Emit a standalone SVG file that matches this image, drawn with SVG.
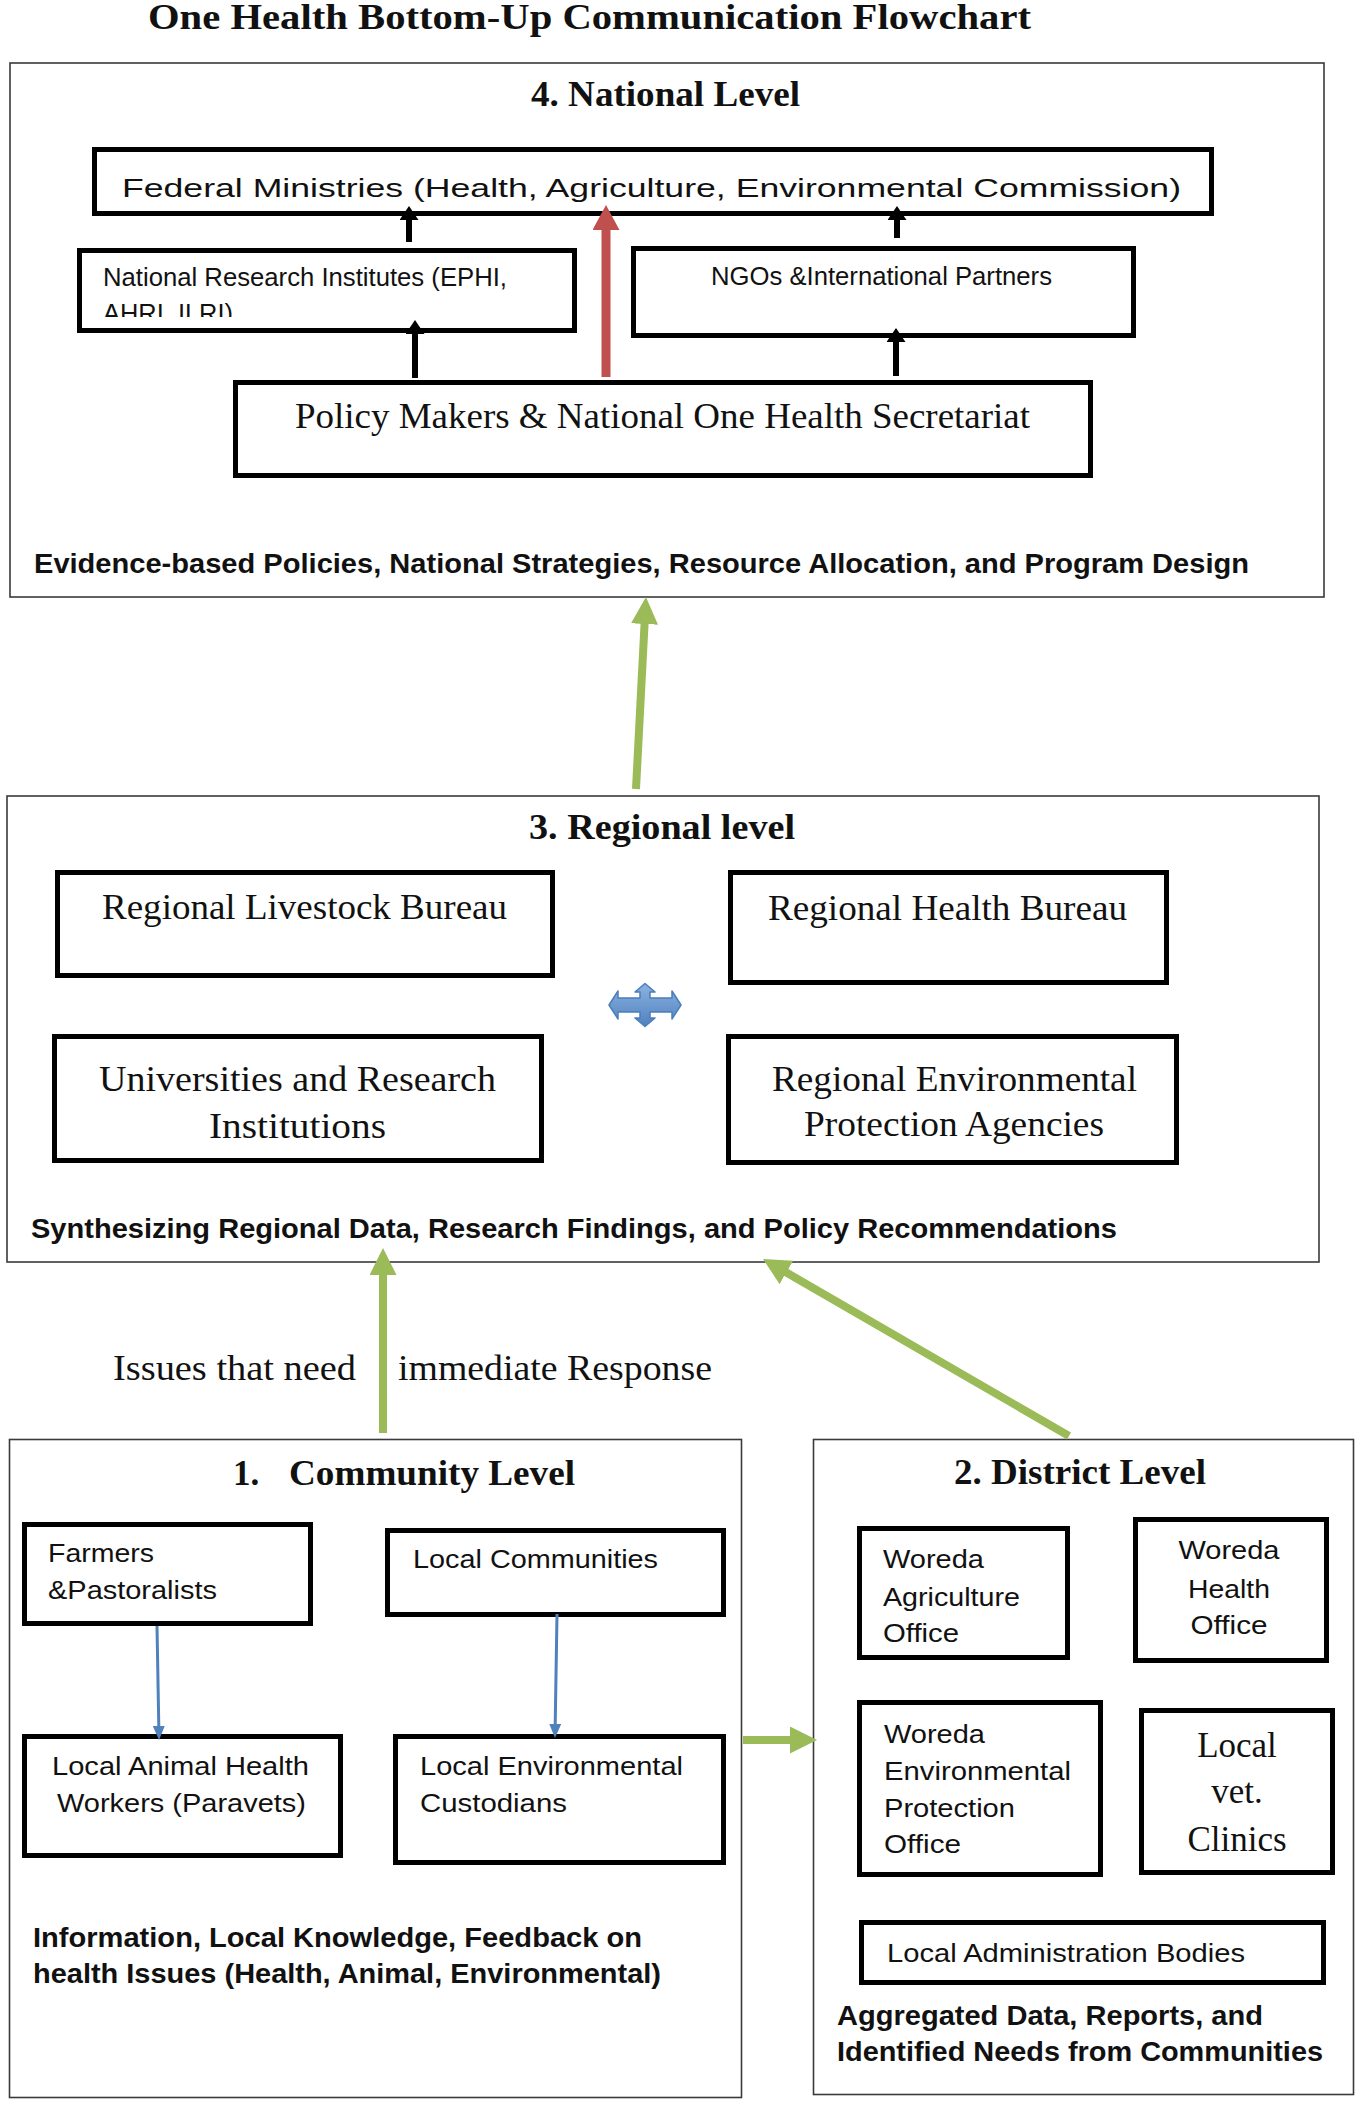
<svg xmlns="http://www.w3.org/2000/svg" width="1364" height="2126" viewBox="0 0 1364 2126">
<style>
.lvl{fill:none;stroke:#3a3a3a;stroke-width:1.6}
.nd{fill:#fff;stroke:#000;stroke-width:5}
.ttl{font-family:"Liberation Serif","DejaVu Serif",serif;font-weight:bold;fill:#111}
.ser{font-family:"Liberation Serif","DejaVu Serif",serif;font-size:35px;fill:#111}
.sans{font-family:"Liberation Sans",Arial,sans-serif;font-size:26px;fill:#111}
.note{font-family:"Liberation Sans",Arial,sans-serif;font-size:28px;font-weight:bold;fill:#111}
.ag{stroke:#9bbb59;stroke-width:8;fill:none}
.ak{stroke:#000;stroke-width:6;fill:none}
.ar{stroke:#c0504d;stroke-width:9;fill:none}
.ab{stroke:#4f81bd;stroke-width:3;fill:none}
</style>
<defs>
<marker id="mg" markerUnits="userSpaceOnUse" markerWidth="27" markerHeight="27" viewBox="0 0 27 27" refX="1" refY="13.5" orient="auto"><path d="M0,0 L27,13.5 L0,27 Z" fill="#9bbb59"/></marker>
<marker id="mk" markerUnits="userSpaceOnUse" markerWidth="14" markerHeight="19" viewBox="0 0 14 19" refX="1" refY="9.5" orient="auto"><path d="M0,0 L14,9.5 L0,19 Z" fill="#000"/></marker>
<marker id="mr" markerUnits="userSpaceOnUse" markerWidth="25" markerHeight="27" viewBox="0 0 25 27" refX="1" refY="13.5" orient="auto"><path d="M0,0 L25,13.5 L0,27 Z" fill="#c0504d"/></marker>
<marker id="mb" markerUnits="userSpaceOnUse" markerWidth="14" markerHeight="12" viewBox="0 0 14 12" refX="1" refY="6" orient="auto"><path d="M0,0 L14,6 L0,12 Z" fill="#4f81bd"/></marker>
<linearGradient id="qg" x1="0" y1="0" x2="0" y2="1"><stop offset="0" stop-color="#8db3e2"/><stop offset="1" stop-color="#4f81bd"/></linearGradient>
<clipPath id="nriclip"><rect x="80" y="252" width="495" height="65"/></clipPath>
</defs>

<text class="ttl" x="148" y="29" font-size="36" textLength="883" lengthAdjust="spacingAndGlyphs">One Health Bottom-Up Communication Flowchart</text>

<!-- Level 4 -->
<g id="national-level">
<rect class="lvl" x="10" y="63" width="1314" height="534"/>
<text class="ttl" x="531" y="106" font-size="35" textLength="269" lengthAdjust="spacingAndGlyphs">4. National Level</text>
<text class="note" x="34" y="573" textLength="1215" lengthAdjust="spacingAndGlyphs">Evidence-based Policies, National Strategies, Resource Allocation, and Program Design</text>
</g>
<g id="federal">
<rect class="nd" x="94.5" y="149.5" width="1117" height="64"/>
<text class="sans" x="122" y="197" font-size="35" textLength="1059" lengthAdjust="spacingAndGlyphs">Federal Ministries (Health, Agriculture, Environmental Commission)</text>
</g>
<g id="nri">
<rect class="nd" x="79.5" y="250.5" width="495" height="80"/>
<g clip-path="url(#nriclip)">
<text class="sans" x="103" y="286" font-size="25" textLength="404" lengthAdjust="spacingAndGlyphs">National Research Institutes (EPHI,</text>
<text class="sans" x="103" y="322" font-size="25" textLength="130" lengthAdjust="spacingAndGlyphs">AHRI, ILRI)</text>
</g>
</g>
<g id="ngo">
<rect class="nd" x="633.5" y="248.5" width="500" height="87"/>
<text class="sans" x="711" y="285" font-size="25" textLength="341" lengthAdjust="spacingAndGlyphs">NGOs &amp;International Partners</text>
</g>
<g id="policy">
<rect class="nd" x="235.5" y="382.5" width="855" height="93"/>
<text class="ser" x="295" y="428" textLength="735" lengthAdjust="spacingAndGlyphs">Policy Makers &amp; National One Health Secretariat</text>
</g>

<!-- Level 3 -->
<g id="regional-level">
<rect class="lvl" x="7" y="796" width="1312" height="466"/>
<text class="ttl" x="529" y="839" font-size="35" textLength="266" lengthAdjust="spacingAndGlyphs">3. Regional level</text>
<text class="note" x="31" y="1238" textLength="1086" lengthAdjust="spacingAndGlyphs">Synthesizing Regional Data, Research Findings, and Policy Recommendations</text>
</g>
<g id="reg-livestock">
<rect class="nd" x="57.5" y="872.5" width="495" height="103"/>
<text class="ser" x="102" y="919" textLength="405" lengthAdjust="spacingAndGlyphs">Regional Livestock Bureau</text>
</g>
<g id="reg-health">
<rect class="nd" x="730.5" y="872.5" width="436" height="110"/>
<text class="ser" x="768" y="920" textLength="359" lengthAdjust="spacingAndGlyphs">Regional Health Bureau</text>
</g>
<g id="universities">
<rect class="nd" x="54.5" y="1036.5" width="487" height="124"/>
<text class="ser" x="99" y="1091" textLength="397" lengthAdjust="spacingAndGlyphs">Universities and Research</text>
<text class="ser" x="209" y="1138" textLength="177" lengthAdjust="spacingAndGlyphs">Institutions</text>
</g>
<g id="reg-env">
<rect class="nd" x="728.5" y="1036.5" width="448" height="126"/>
<text class="ser" x="772" y="1091" textLength="365" lengthAdjust="spacingAndGlyphs">Regional Environmental</text>
<text class="ser" x="804" y="1136" textLength="300" lengthAdjust="spacingAndGlyphs">Protection Agencies</text>
</g>
<g id="quad-arrow" transform="translate(645,1005)">
<polygon points="0,-21.5 10,-13 5,-13 5,-7 27,-7 27,-14 36,0 27,14 27,7 5,7 5,13 10,13 0,21.5 -10,13 -5,13 -5,7 -27,7 -27,14 -36,0 -27,-14 -27,-7 -5,-7 -5,-13 -10,-13" fill="url(#qg)" stroke="#4a7ebb" stroke-width="1.5" stroke-linejoin="round"/>
</g>

<text class="ser" x="113" y="1380" textLength="243" lengthAdjust="spacingAndGlyphs">Issues that need</text>
<text class="ser" x="398" y="1380" textLength="314" lengthAdjust="spacingAndGlyphs">immediate Response</text>

<!-- Level 1 -->
<g id="community-level">
<rect class="lvl" x="9.5" y="1439.5" width="732" height="658"/>
<text class="ttl" x="233" y="1485" font-size="35">1.</text>
<text class="ttl" x="289" y="1485" font-size="35" textLength="286" lengthAdjust="spacingAndGlyphs">Community Level</text>
<text class="note" x="33" y="1947" textLength="609" lengthAdjust="spacingAndGlyphs">Information, Local Knowledge, Feedback on</text>
<text class="note" x="33" y="1983" textLength="628" lengthAdjust="spacingAndGlyphs">health Issues (Health, Animal, Environmental)</text>
</g>
<g id="farmers">
<rect class="nd" x="24.5" y="1524.5" width="286" height="99"/>
<text class="sans" x="48" y="1562" textLength="106" lengthAdjust="spacingAndGlyphs">Farmers</text>
<text class="sans" x="48" y="1599" textLength="169" lengthAdjust="spacingAndGlyphs">&amp;Pastoralists</text>
</g>
<g id="local-communities">
<rect class="nd" x="387.5" y="1530.5" width="336" height="84"/>
<text class="sans" x="413" y="1568" textLength="245" lengthAdjust="spacingAndGlyphs">Local Communities</text>
</g>
<g id="paravets">
<rect class="nd" x="24.5" y="1736.5" width="316" height="119"/>
<text class="sans" x="52" y="1775" textLength="257" lengthAdjust="spacingAndGlyphs">Local Animal Health</text>
<text class="sans" x="57" y="1812" textLength="249" lengthAdjust="spacingAndGlyphs">Workers (Paravets)</text>
</g>
<g id="custodians">
<rect class="nd" x="395.5" y="1736.5" width="328" height="126"/>
<text class="sans" x="420" y="1775" textLength="263" lengthAdjust="spacingAndGlyphs">Local Environmental</text>
<text class="sans" x="420" y="1812" textLength="147" lengthAdjust="spacingAndGlyphs">Custodians</text>
</g>

<!-- Level 2 -->
<g id="district-level">
<rect class="lvl" x="813.5" y="1439.5" width="540" height="655"/>
<text class="ttl" x="954" y="1484" font-size="35" textLength="252" lengthAdjust="spacingAndGlyphs">2. District Level</text>
<text class="note" x="837" y="2025" textLength="426" lengthAdjust="spacingAndGlyphs">Aggregated Data, Reports, and</text>
<text class="note" x="837" y="2061" textLength="486" lengthAdjust="spacingAndGlyphs">Identified Needs from Communities</text>
</g>
<g id="woreda-agri">
<rect class="nd" x="859.5" y="1528.5" width="208" height="129"/>
<text class="sans" x="883" y="1568" textLength="101" lengthAdjust="spacingAndGlyphs">Woreda</text>
<text class="sans" x="883" y="1606" textLength="137" lengthAdjust="spacingAndGlyphs">Agriculture</text>
<text class="sans" x="883" y="1642" textLength="76" lengthAdjust="spacingAndGlyphs">Office</text>
</g>
<g id="woreda-health">
<rect class="nd" x="1135.5" y="1519.5" width="191" height="141"/>
<text class="sans" x="1229" y="1559" text-anchor="middle" textLength="101" lengthAdjust="spacingAndGlyphs">Woreda</text>
<text class="sans" x="1229" y="1598" text-anchor="middle" textLength="82" lengthAdjust="spacingAndGlyphs">Health</text>
<text class="sans" x="1229" y="1634" text-anchor="middle" textLength="77" lengthAdjust="spacingAndGlyphs">Office</text>
</g>
<g id="woreda-env">
<rect class="nd" x="859.5" y="1702.5" width="241" height="172"/>
<text class="sans" x="884" y="1743" textLength="101" lengthAdjust="spacingAndGlyphs">Woreda</text>
<text class="sans" x="884" y="1780" textLength="187" lengthAdjust="spacingAndGlyphs">Environmental</text>
<text class="sans" x="884" y="1817" textLength="131" lengthAdjust="spacingAndGlyphs">Protection</text>
<text class="sans" x="884" y="1853" textLength="77" lengthAdjust="spacingAndGlyphs">Office</text>
</g>
<g id="vet-clinics">
<rect class="nd" x="1141.5" y="1710.5" width="191" height="162"/>
<text class="ser" x="1237" y="1757" text-anchor="middle">Local</text>
<text class="ser" x="1237" y="1803" text-anchor="middle">vet.</text>
<text class="ser" x="1237" y="1851" text-anchor="middle">Clinics</text>
</g>
<g id="local-admin">
<rect class="nd" x="861.5" y="1922.5" width="462" height="60"/>
<text class="sans" x="887" y="1962" textLength="358" lengthAdjust="spacingAndGlyphs">Local Administration Bodies</text>
</g>

<!-- Connectors -->
<g id="connectors">
<line class="ak" x1="409" y1="242" x2="409" y2="219" marker-end="url(#mk)"/>
<line class="ak" x1="415" y1="378" x2="415" y2="333" marker-end="url(#mk)"/>
<line class="ak" x1="897" y1="238" x2="897" y2="219" marker-end="url(#mk)"/>
<line class="ak" x1="896" y1="376" x2="896" y2="341" marker-end="url(#mk)"/>
<line class="ar" x1="606" y1="377" x2="606" y2="229" marker-end="url(#mr)"/>
<line class="ag" x1="636" y1="789" x2="644.6" y2="623" marker-end="url(#mg)"/>
<line class="ag" x1="383" y1="1433" x2="383" y2="1274" marker-end="url(#mg)"/>
<line class="ag" x1="1069" y1="1436" x2="785.5" y2="1272" marker-end="url(#mg)"/>
<line class="ag" x1="743" y1="1740" x2="791" y2="1740" marker-end="url(#mg)"/>
<line class="ab" x1="157" y1="1626" x2="158.8" y2="1727" marker-end="url(#mb)"/>
<line class="ab" x1="557" y1="1614" x2="555.2" y2="1725" marker-end="url(#mb)"/>
</g>
</svg>
